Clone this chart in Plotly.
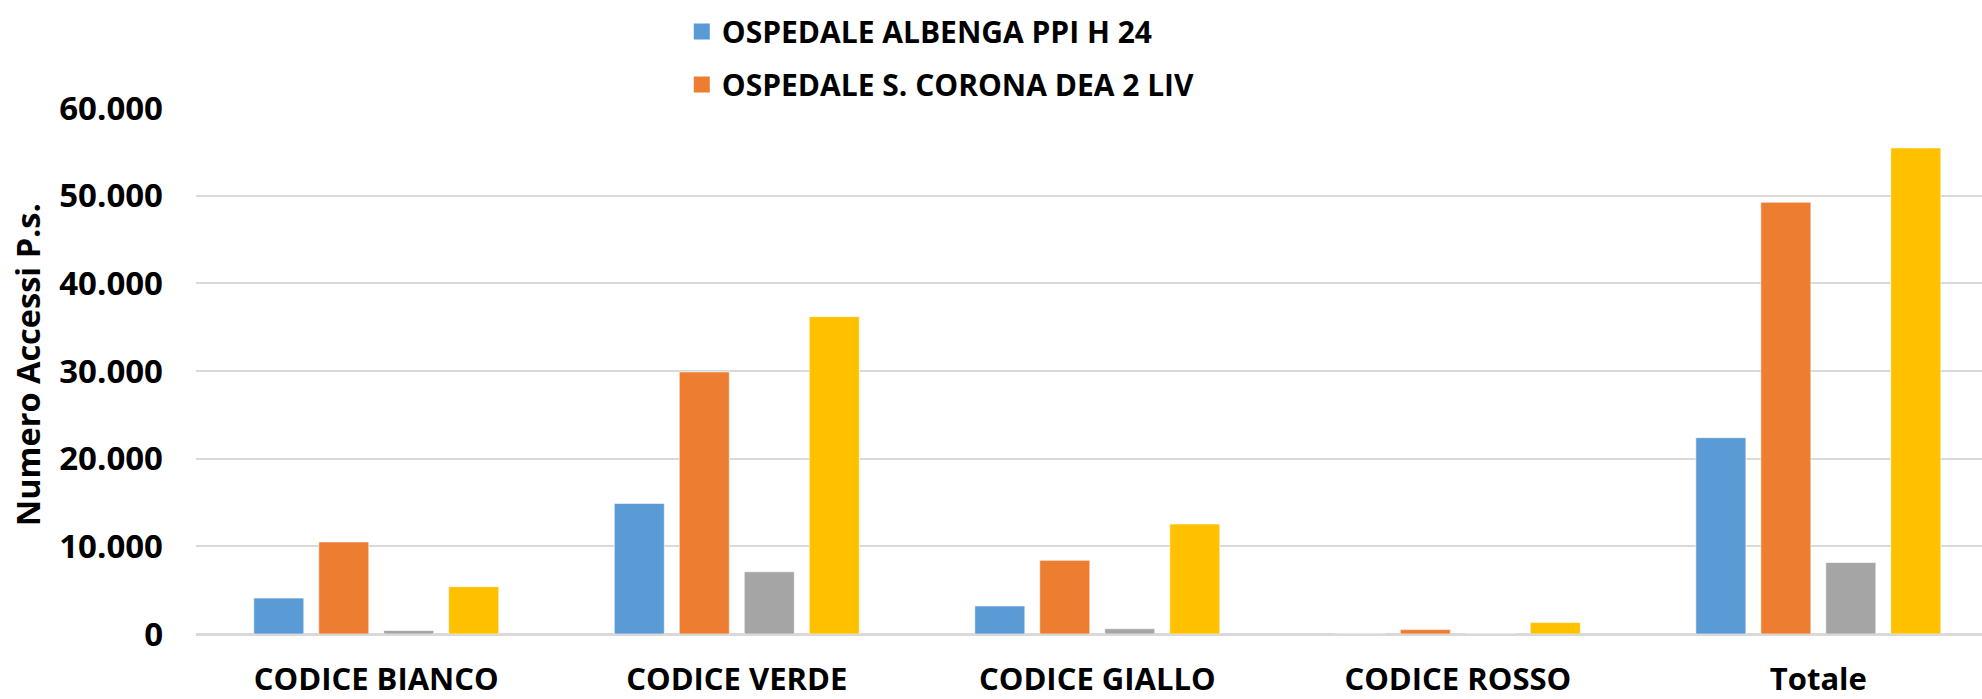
import plotly.graph_objects as go

categories = ["CODICE BIANCO", "CODICE VERDE", "CODICE GIALLO", "CODICE ROSSO", "Totale"]
series_names = [
    "OSPEDALE ALBENGA PPI H 24",
    "OSPEDALE S. CORONA DEA 2 LIV",
    "OSPEDALE CAIRO M.TTE PPI",
    "OSPEDALE S. PAOLO SAVONA DEA 2 LIV",
]
albenga = [4100, 14900, 3200, 50, 22400]
corona = [10500, 29900, 8400, 500, 49250]
cairo = [400, 7100, 600, 20, 8150]
savona = [5400, 36200, 12550, 1300, 55450]
series_values = [albenga, corona, cairo, savona]
colors = ["#5B9BD5", "#ED7D31", "#A5A5A5", "#FFC000"]
show_in_legend = [True, True, False, False]

FONT = "Open Sans, Lato, sans-serif"

fig = go.Figure()
for i, (name, vals, col) in enumerate(zip(series_names, series_values, colors)):
    fig.add_trace(go.Bar(
        x=categories, y=vals, name=name,
        marker=dict(color=col, line=dict(color="rgba(255,255,255,0.6)", width=1)),
        showlegend=False, legendgroup=f"g{i}",
    ))
# legend entries (only the first two are visible in the original chart)
for i, (name, col, sl) in enumerate(zip(series_names, colors, show_in_legend)):
    if sl:
        fig.add_trace(go.Scatter(
            x=[None], y=[None], mode="markers", name=name,
            marker=dict(symbol="square", size=21, color=col),
            legendgroup=f"g{i}", showlegend=True,
        ))

fig.update_layout(
    width=1982, height=699,
    margin=dict(l=196, r=0, t=108, b=65, autoexpand=False),
    plot_bgcolor="white", paper_bgcolor="white",
    barmode="group", bargap=0.279, bargroupgap=0.23,
    separators=",.",
    font=dict(family=FONT, color="black", size=31),
    legend=dict(
        x=0.272, xanchor="left", y=1.195, yanchor="top",
        orientation="v", font=dict(family=FONT, size=30, color="black", weight="bold"),
        tracegroupgap=11, bgcolor="rgba(0,0,0,0)", itemwidth=30,
    ),
    showlegend=True,
)
fig.update_xaxes(
    range=[-0.5, 4.454],
    showgrid=False, showline=False, ticks="",
    tickfont=dict(family=FONT, size=31, color="black", weight="bold"),
    ticklabelstandoff=24,
)
fig.update_yaxes(
    range=[0, 60000], dtick=10000, tickformat=",.0f",
    showgrid=True, gridcolor="#D9D9D9", gridwidth=1.5,
    zeroline=True, zerolinecolor="#D9D9D9", zerolinewidth=2.5,
    showline=False, ticks="",
    tickfont=dict(family=FONT, size=33, color="black", weight="bold"),
    ticklabelstandoff=32,
)
fig.add_annotation(
    text="Numero Accessi P.s.", textangle=-90,
    xref="paper", yref="paper", x=-0.0946, y=0.511,
    xanchor="center", yanchor="middle", showarrow=False,
    font=dict(family=FONT, size=32.5, color="black", weight="bold"),
)

fig.write_html("out.html", config={"displayModeBar": False},
               post_script="document.body.style.margin='0';")
